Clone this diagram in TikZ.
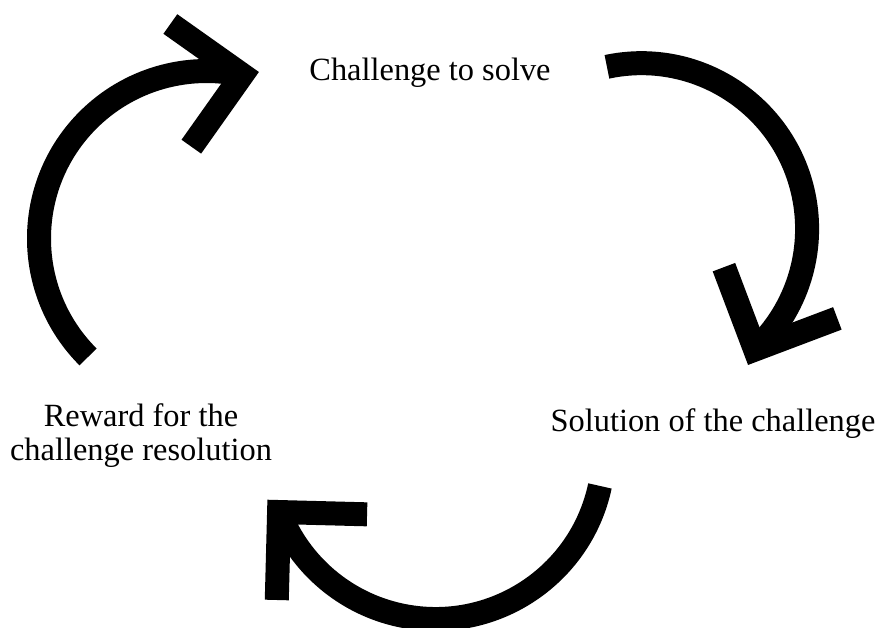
\documentclass[tikz,border=0pt]{standalone}
\usepackage{fontspec}
\setmainfont{Liberation Serif}
\usetikzlibrary{calc}
\begin{document}
\begin{tikzpicture}[x=1pt,y=1pt,
  arrowline/.style={line width=24pt, line cap=butt, line join=miter, black},
  lbl/.style={inner sep=0pt, font=\fontsize{32.4}{33.4}\selectfont}]
\useasboundingbox (0,0) rectangle (881,-627);
\fill[white] (0,0) rectangle (881,-627);

% arc centres and the points where each arc meets its arrowhead
\coordinate (cl) at (206.5,-238.5);
\coordinate (cr) at (641.4,-228.9);
\coordinate (cb) at (435.6,-451);
\coordinate (tl) at ($(cl)+(77.7:167.5)$);
\coordinate (tr) at ($(cr)+(-46.7:165.7)$);
\coordinate (tb) at ($(cb)+(-158.7:168)$);

% labels (a multi-line node sits on the baseline of its last line)
\node[lbl, anchor=base] (challenge) at (430,-80.7) {Challenge to solve};
\node[lbl, anchor=base] (solution) at (713,-431) {Solution of the challenge};
\node[lbl, anchor=base, align=center] (reward) at (141,-460) {Reward for the\\challenge resolution};

% left arrow: reward -> challenge
\draw[arrowline] ($(cl)+(225:167.5)$) arc[start angle=225, end angle=77.7, radius=167.5];
\draw[arrowline] ($(tl)+(144.7:88)$) -- (tl) -- ($(tl)+(234.7:88)$);

% right arrow: challenge -> solution
\draw[arrowline] ($(cr)+(102:165.7)$) arc[start angle=102, end angle=-46.7, radius=165.7];
\draw[arrowline] ($(tr)+(20.7:88)$) -- (tr) -- ($(tr)+(110.7:88)$);

% bottom arrow: solution -> reward
\draw[arrowline] ($(cb)+(-12:168)$) arc[start angle=-12, end angle=-158.7, radius=168];
\draw[arrowline] ($(tb)+(-1.5:88)$) -- (tb) -- ($(tb)+(268.5:88)$);
\end{tikzpicture}
\end{document}
